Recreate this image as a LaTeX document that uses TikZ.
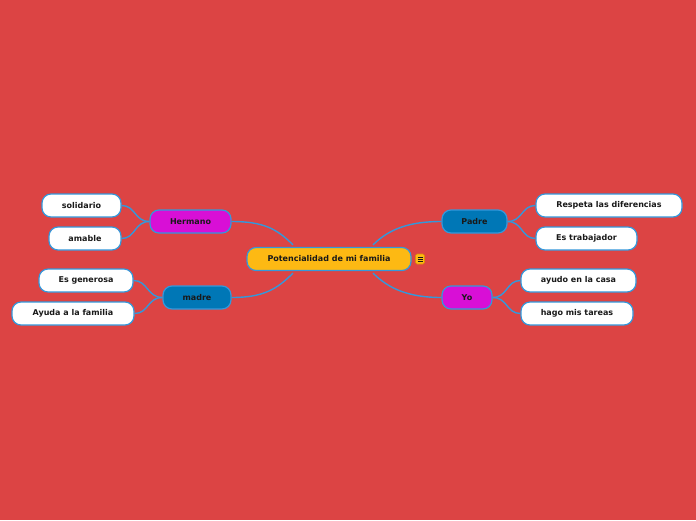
\documentclass[tikz,border=0pt]{standalone}
\usepackage{fontspec}
\setmainfont{DejaVu Sans}
\usetikzlibrary{positioning}
\definecolor{fondo}{RGB}{220,68,68}
\definecolor{borde}{RGB}{52,152,219}
\definecolor{naranja}{RGB}{253,185,19}
\definecolor{morado}{RGB}{216,15,214}
\definecolor{azul}{RGB}{0,119,182}
\definecolor{tinta}{RGB}{25,25,25}
\pgfdeclarelayer{fondocapa}
\pgfdeclarelayer{bg}
\pgfsetlayers{fondocapa,bg,main}
\tikzset{
  caja/.style={draw=borde, line width=1.2pt, rounded corners=9pt,
    minimum height=23pt, inner sep=0pt, text=tinta,
    font=\fontsize{8}{9}\selectfont\bfseries},
  central/.style={caja, fill=naranja},
  rama/.style={caja, fill=#1},
  hoja/.style={caja, fill=white},
  enlace/.style={draw=borde, line width=1.4pt}
}
\begin{document}
\begin{tikzpicture}[x=1pt,y=-1pt]

	\begin{pgfonlayer}{fondocapa}
	\fill[fondo] (0,0) rectangle (696,520);
	\end{pgfonlayer}

	% idea central
	\node[central, minimum width=164pt] (cen) at (329,259)
	{Potencialidad de mi familia};
	\node[draw={rgb,255:red,220;green,140;blue,10}, fill=naranja, rounded corners=1.5pt,
	  minimum width=9pt, minimum height=10pt, inner sep=0pt, line width=0.6pt]
	  (nota) at (420,259) {};
	\foreach \dy in {-2,0,2}
	  \draw[tinta, line width=0.6pt] ([xshift=-2.5pt,yshift=\dy pt]nota.center) -- ([xshift=2.5pt,yshift=\dy pt]nota.center);
	\coordinate (cNO) at ([xshift=-36pt,yshift=2pt]cen.north);
	\coordinate (cSO) at ([xshift=-36pt,yshift=-2pt]cen.south);
	\coordinate (cNE) at ([xshift=44pt,yshift=2pt]cen.north);
	\coordinate (cSE) at ([xshift=44pt,yshift=-2pt]cen.south);

	% ramas
	\node[rama=morado, minimum width=81pt] (her) at (190.5,221.5) {Hermano};
	\node[rama=azul, minimum width=68pt] (mad) at (197,297.5) {madre};
	\node[rama=azul, minimum width=65pt] (pad) at (474.5,221.5) {Padre};
	\node[rama=morado, minimum width=50pt] (yo) at (467,297.5) {Yo};

	% hojas
	\node[hoja, minimum width=79pt] (sol) at (81.5,205.5) {solidario};
	\node[hoja, minimum width=72pt] (ama) at (85,238.5) {amable};
	\node[hoja, minimum width=94pt] (gen) at (86,280.5) {Es generosa};
	\node[hoja, minimum width=122pt] (ayu) at (73,313.5) {Ayuda a la familia};
	\node[hoja, minimum width=146pt] (res) at (609,205.5) {Respeta las diferencias};
	\node[hoja, minimum width=101pt] (tra) at (586.5,238.5) {Es trabajador};
	\node[hoja, minimum width=115pt] (cas) at (578.5,280.5) {ayudo en la casa};
	\node[hoja, minimum width=112pt] (tar) at (577,313.5) {hago mis tareas};

	\begin{pgfonlayer}{bg}
	% del centro a las ramas
	\draw[enlace] (her.east) .. controls +(32,0) and +(-16,-16) .. (cNO);
	\draw[enlace] (mad.east) .. controls +(32,0) and +(-16,16) .. (cSO);
	\draw[enlace] (pad.west) .. controls +(-32,0) and +(16,-16) .. (cNE);
	\draw[enlace] (yo.west) .. controls +(-32,0) and +(16,16) .. (cSE);

	% de las ramas a las hojas
	\foreach \r/\h in {her/sol,her/ama,mad/gen,mad/ayu}
	  \draw[enlace] (\r.west) .. controls +(-15,0) and +(14,0) .. (\h.east);
	\foreach \r/\h in {pad/res,pad/tra,yo/cas,yo/tar}
	  \draw[enlace] (\r.east) .. controls +(15,0) and +(-14,0) .. (\h.west);
	\end{pgfonlayer}

\end{tikzpicture}
\end{document}
